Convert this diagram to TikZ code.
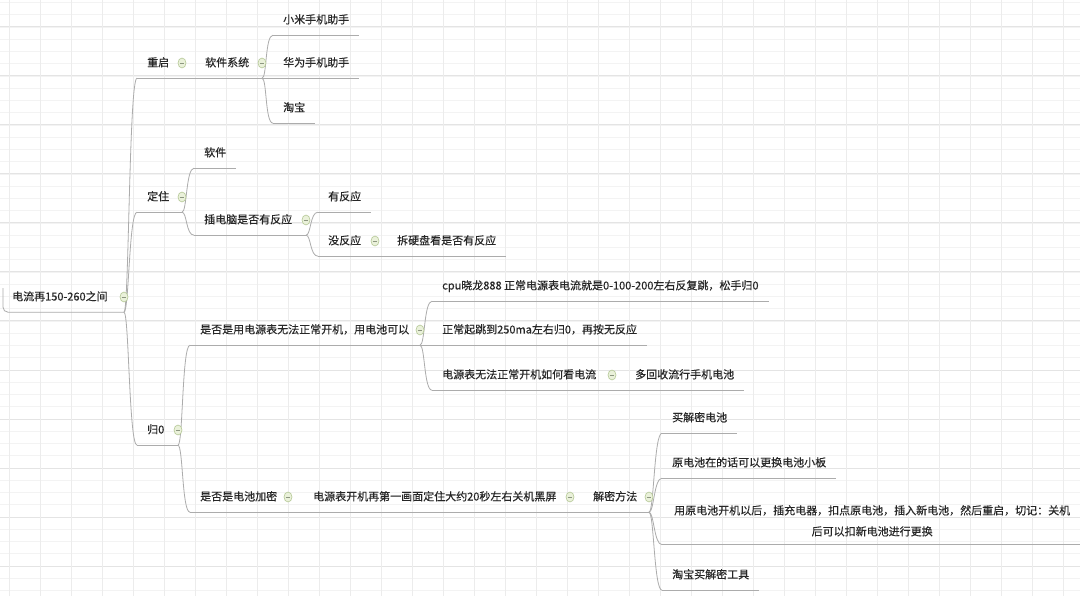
\documentclass[tikz,border=0pt]{standalone}
\usepackage{fontspec}
\setmainfont{Noto Sans CJK SC}[FakeBold=0.35]
\usepackage{tikz}
\usetikzlibrary{calc,shapes.geometric}
\definecolor{gridthin}{RGB}{243,243,243}
\definecolor{gridbold}{RGB}{228,228,228}
\definecolor{linegray}{RGB}{172,172,172}
\definecolor{btnfill}{RGB}{234,241,218}
\definecolor{btnedge}{RGB}{178,198,146}
\definecolor{btnbar}{RGB}{140,150,128}
\definecolor{inkgray}{RGB}{38,38,38}
\newcommand{\branch}[2]{\draw[branchline] (#1) .. controls +(5,0) and +(-8,0) .. (#2);}
\newcommand{\foldat}[3]{\coordinate (#1) at (#2,#3);}

\begin{document}
\begin{tikzpicture}[x=1pt,y=-1pt,
  topicbase/.style={anchor=west,inner xsep=10pt,inner ysep=0pt,text=inkgray,
    font=\fontsize{11}{21}\selectfont},
  topic/.style={topicbase,minimum height=30pt,text height=9pt,text depth=2pt},
  underline/.style={draw=linegray,line width=0.8pt},
  branchline/.style={draw=linegray,line width=0.8pt},
  foldmark/.style={ellipse,draw=btnedge,fill=btnfill,line width=0.6pt,
    minimum width=8pt,minimum height=10pt,inner sep=0pt,
    path picture={\draw[btnbar,line width=0.9pt]
      ([xshift=-2.4pt]path picture bounding box.center) --
      ([xshift=2.4pt]path picture bounding box.center);}}]
\useasboundingbox (0,0) rectangle (1080,596);
\fill[white] (0,0) rectangle (1080,596);
% background grid
\foreach \gy in {0,...,48}
  \draw[gridthin,line width=0.8pt] (0,{2.5+12.25*\gy}) -- (1080,{2.5+12.25*\gy});
\foreach \gy in {0,...,11}
  \draw[gridbold,line width=1pt] (0,{27+49*\gy}) -- (1080,{27+49*\gy});
\foreach \gx in {0,...,34}
  \draw[gridbold!70,line width=0.8pt] ({9+31*\gx},0) -- ({9+31*\gx},596);

% topics
\node[topic] (root) at (2,297) {电流再150-260之间};
\node[topic] (restart) at (137,63) {重启};
\node[topic] (softsys) at (195,63) {软件系统};
\node[topic] (xiaomi) at (273,20) {小米手机助手};
\node[topic] (huawei) at (273,63) {华为手机助手};
\node[topic] (taobao) at (273,108) {淘宝};
\node[topic] (fixed) at (137,197) {定住};
\node[topic] (software) at (194,153) {软件};
\node[topic] (plugpc) at (194,220) {插电脑是否有反应};
\node[topic] (hasresp) at (318,197) {有反应};
\node[topic] (noresp) at (318,241) {没反应};
\node[topic] (disk) at (387,241) {拆硬盘看是否有反应};
\node[topic] (zero) at (137,430) {归0};
\node[topic] (psufail) at (190,330) {是否是用电源表无法正常开机，用电池可以};
\node[topic] (cpuline) at (432,286) {cpu晓龙888 正常电源表电流就是0-100-200左右反复跳，松手归0};
\node[topic] (normaljump) at (432,330) {正常起跳到250ma左右归0，再按无反应};
\node[topic] (howcurrent) at (432,375) {电源表无法正常开机如何看电流};
\node[topic] (recycle) at (625,375) {多回收流行手机电池};
\node[topic] (encrypted) at (190,497) {是否是电池加密};
\node[topic] (bootblack) at (303,497) {电源表开机再第一画面定住大约20秒左右关机黑屏};
\node[topic] (decrypt) at (583,497) {解密方法};
\node[topic] (buybatt) at (662,418) {买解密电池};
\node[topic] (boardswap) at (662,463) {原电池在的话可以更换电池小板};
\node[topicbase,anchor=north west,inner ysep=4pt,text width=400pt,align=center]
  (swapsteps) at (662,501) {用原电池开机以后，插充电器，扣点原电池，插入新电池，然后重启，切记：关机\\后可以扣新电池进行更换};
\node[topic] (taobaotool) at (662,575) {淘宝买解密工具};

% fold button places
\foldat{root-fold}{124}{297}
\foldat{restart-fold}{182}{63}
\foldat{softsys-fold}{262}{63}
\foldat{fixed-fold}{182}{197}
\foldat{plugpc-fold}{306}{220}
\foldat{noresp-fold}{375}{241}
\foldat{zero-fold}{178}{430}
\foldat{psufail-fold}{420}{330}
\foldat{howcurrent-fold}{612}{375}
\foldat{encrypted-fold}{288}{497}
\foldat{bootblack-fold}{570}{497}
\foldat{decrypt-fold}{649}{497}

% underline ends
\foreach \n in {root,restart,softsys,fixed,plugpc,noresp,zero,psufail,howcurrent,encrypted,bootblack,decrypt}
  \coordinate (\n-end) at (\n-fold |- \n.south);
\coordinate (swapsteps-ul) at ([yshift=-4pt]swapsteps.south west);
\coordinate (swapsteps-ur) at ([yshift=-4pt]swapsteps.south east);

% underlines
\draw[underline,rounded corners=5pt] ($(root.south west)+(1,-24)$) -- ($(root.south west)+(1,0)$) -- (root-end);
\foreach \n in {restart,softsys,fixed,plugpc,noresp,zero,psufail,howcurrent,encrypted,bootblack,decrypt}
  \draw[underline] (\n.south west) -- (\n-end);
\foreach \n in {xiaomi,huawei,taobao,software,hasresp,disk,cpuline,normaljump,recycle,buybatt,boardswap,taobaotool}
  \draw[underline] (\n.south west) -- (\n.south east);
\draw[underline] (swapsteps-ul) -- (swapsteps-ur);

% branches
\branch{root-end}{restart.south west}
\branch{root-end}{fixed.south west}
\branch{root-end}{zero.south west}
\branch{restart-end}{softsys.south west}
\branch{softsys-end}{xiaomi.south west}
\branch{softsys-end}{huawei.south west}
\branch{softsys-end}{taobao.south west}
\branch{fixed-end}{software.south west}
\branch{fixed-end}{plugpc.south west}
\branch{plugpc-end}{hasresp.south west}
\branch{plugpc-end}{noresp.south west}
\branch{noresp-end}{disk.south west}
\branch{zero-end}{psufail.south west}
\branch{zero-end}{encrypted.south west}
\branch{psufail-end}{cpuline.south west}
\branch{psufail-end}{normaljump.south west}
\branch{psufail-end}{howcurrent.south west}
\branch{howcurrent-end}{recycle.south west}
\branch{encrypted-end}{bootblack.south west}
\branch{bootblack-end}{decrypt.south west}
\branch{decrypt-end}{buybatt.south west}
\branch{decrypt-end}{boardswap.south west}
\branch{decrypt-end}{swapsteps-ul}
\branch{decrypt-end}{taobaotool.south west}

% fold buttons on top
\foreach \n in {root,restart,softsys,fixed,plugpc,noresp,zero,psufail,howcurrent,encrypted,bootblack,decrypt}
  \node[foldmark] (\n-btn) at (\n-fold) {};
\end{tikzpicture}
\end{document}
